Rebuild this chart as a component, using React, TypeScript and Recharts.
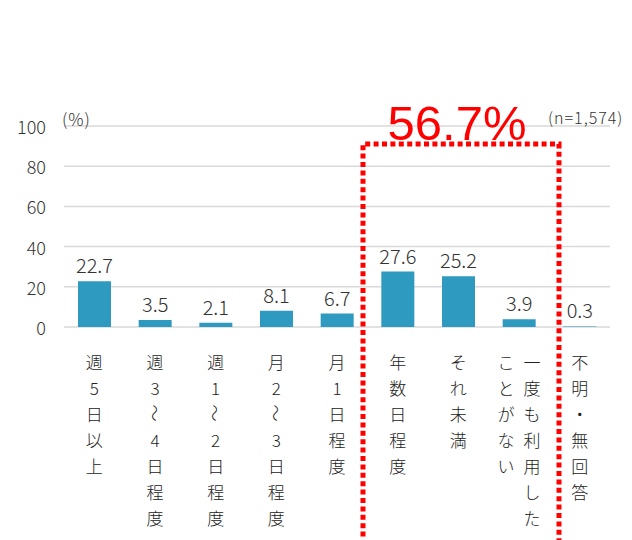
import { Bar, BarChart, CartesianGrid, LabelList, XAxis, YAxis } from "recharts";

const categories = [
  "週5日以上",
  "週3〜4日程度",
  "週1〜2日程度",
  "月2〜3日程度",
  "月1日程度",
  "年数日程度",
  "それ未満",
  "一度も利用した\nことがない",
  "不明・無回答",
];
const values = [22.7, 3.5, 2.1, 8.1, 6.7, 27.6, 25.2, 3.9, 0.3];
const yTicks = [0, 20, 40, 60, 80, 100];
const highlighted = [5, 6, 7];

const rows = categories.map((name, i) => ({ name, value: values[i] }));
const highlightTotal = highlighted.reduce((s, i) => s + values[i], 0).toFixed(1);

const FONT = "'Noto Sans CJK JP', 'Noto Sans', sans-serif";

function YTick(props: any) {
  return (
    <text x={46} y={props.y} textAnchor="end" dominantBaseline="central" fontSize={18} fontWeight={300} fill="#333" fontFamily={FONT}>
      {props.payload.value}
    </text>
  );
}

function XTick(props: any) {
  const cols: string[] = String(props.payload.value).split("\n");
  const colGap = 26;
  const startX = props.x + ((cols.length - 1) * colGap) / 2;
  return (
    <g>
      {cols.map((col, c) =>
        Array.from(col).map((ch, r) => {
          const cx = startX - c * colGap;
          const cy = props.y + 34 + r * 26;
          return (
            <text
              key={`${c}-${r}`}
              x={cx}
              y={cy}
              textAnchor="middle"
              dominantBaseline="central"
              fontSize={17}
              fontWeight={300}
              fill="#222"
              fontFamily={FONT}
              transform={ch === "〜" ? `rotate(90 ${cx} ${cy})` : undefined}
            >
              {ch}
            </text>
          );
        })
      )}
    </g>
  );
}

export default function App() {
  return (
    <div style={{ position: "absolute", left: 0, top: 0, width: 632, height: 540, background: "#fff", overflow: "hidden" }}>
      <BarChart width={632} height={540} data={rows} margin={{ top: 126, right: 22, bottom: 13, left: 0 }}>
        <CartesianGrid vertical={false} stroke="#d9d9d9" strokeWidth={1.5} />
        <YAxis width={64} domain={[0, 100]} ticks={yTicks} axisLine={false} tickLine={false} tick={<YTick />} />
        <XAxis dataKey="name" height={200} interval={0} axisLine={false} tickLine={false} tickSize={0} tickMargin={0} tick={<XTick />} />
        <Bar dataKey="value" fill="#2f9ac0" barSize={33} isAnimationActive={false}>
          <LabelList dataKey="value" position="top" offset={8} fontSize={20} fontWeight={300} fill="#333" fontFamily={FONT} formatter={(v: any) => Number(v).toFixed(1)} />
        </Bar>
      </BarChart>
      <svg width={632} height={540} style={{ position: "absolute", left: 0, top: 0, pointerEvents: "none" }}>
        <text x={62} y={118} fontSize={17} fontWeight={300} letterSpacing={1} fill="#333" fontFamily={FONT} dominantBaseline="central">(%)</text>
        <text x={548} y={117} fontSize={16} fontWeight={300} letterSpacing={1} fill="#333" fontFamily={FONT} dominantBaseline="central">(n=1,574)</text>
        <path d="M363 545 L363 144 L559 144 L559 545" fill="none" stroke="#ff0000" strokeWidth={5} strokeDasharray="5 3.4" />
        <text x={457} y={140} textAnchor="middle" fontSize={49} fill="#ff0000" fontFamily="'Liberation Sans', Arial, sans-serif">
          {highlightTotal}%
        </text>
      </svg>
    </div>
  );
}
